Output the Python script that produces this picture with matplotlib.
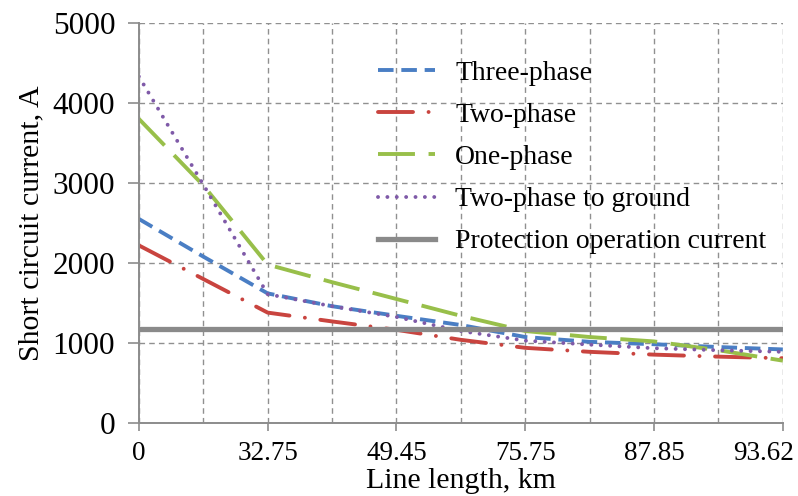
import numpy as np
import matplotlib.pyplot as plt

plt.rcParams['font.family'] = ['Liberation Serif', 'DejaVu Serif']

# line length points (only every other one is labelled on the axis)
tick_labels = ['0', '32.75', '49.45', '75.75', '87.85', '93.62']
n_points = 11

three_phase = [2550, 2080, 1620, 1460, 1340, 1225, 1075, 1015, 985, 950, 920]
two_phase = [2220, 1800, 1380, 1270, 1165, 1040, 940, 890, 855, 830, 810]
one_phase = [3800, 2970, 1980, 1760, 1550, 1340, 1150, 1075, 1020, 910, 780]
two_phase_ground = [4330, 2980, 1610, 1460, 1325, 1150, 1030, 980, 935, 910, 890]
protection_current = 1180

x = np.arange(n_points)

fig = plt.figure(figsize=(7.98, 4.96), dpi=100)
ax = fig.add_axes([0.174, 0.147, 0.807, 0.807])

lw = 2.8
l1, = ax.plot(x, three_phase, color='#4a7ec4', lw=lw, label='Three-phase')
l1.set_dashes([4.0, 2.0])
l2, = ax.plot(x, two_phase, color='#c9443f', lw=lw, label='Two-phase',
              dash_capstyle='round')
l2.set_dashes([9.0, 4.0, 0.01, 4.0])
l3, = ax.plot(x, one_phase, color='#98bf4a', lw=lw, label='One-phase')
l3.set_dashes([9.5, 3.5])
l4, = ax.plot(x, two_phase_ground, color='#7f5aa8', lw=lw,
              label='Two-phase to ground', dash_capstyle='round')
l4.set_dashes([0.01, 2.4])
ax.plot(x, [protection_current] * n_points, color='#8a8a8a', lw=3.8,
        label='Protection operation current')

ax.set_xlim(0, n_points - 1)
ax.set_ylim(0, 5000)
ax.set_xticks(x[::2])
# the last label is drawn separately, pulled left of its tick
ax.set_xticklabels(tick_labels[:-1] + [''])
ax.set_xticks(x, minor=True)
ax.set_yticks(np.arange(0, 5001, 1000))

ax.grid(True, which='both', axis='x', color='#909090', ls=(0, (4, 3)), lw=1.0)
ax.grid(True, which='major', axis='y', color='#909090', ls=(0, (4, 3)), lw=1.0)
ax.set_axisbelow(True)

for side in ['top', 'right']:
    ax.spines[side].set_visible(False)
for side in ['left', 'bottom']:
    ax.spines[side].set_color('#8c8c8c')
    ax.spines[side].set_linewidth(1.4)

ax.tick_params(axis='both', which='major', direction='out',
               width=1.2, color='#8c8c8c', colors='black')
ax.tick_params(axis='y', length=8, pad=9, labelsize=22.5)
ax.tick_params(axis='x', length=6, pad=7, labelsize=19.5)
ax.tick_params(axis='x', which='minor', length=0)

ax.annotate(tick_labels[-1], xy=(x[-1], 0), xycoords=('data', 'axes fraction'),
            xytext=(8, -13), textcoords='offset points', ha='right', va='top',
            fontsize=19.5)

ax.set_xlabel('Line length, km', fontsize=21.5, labelpad=1)
ax.set_ylabel('Short circuit current, A', fontsize=21.5, labelpad=6)

ax.legend(loc='upper left', bbox_to_anchor=(0.474, 0.878), bbox_transform=fig.transFigure,
          frameon=False, fontsize=20, handlelength=2.05, handletextpad=0.72,
          labelspacing=0.6, borderpad=0, borderaxespad=0)

fig.savefig('out.png', dpi=100)
